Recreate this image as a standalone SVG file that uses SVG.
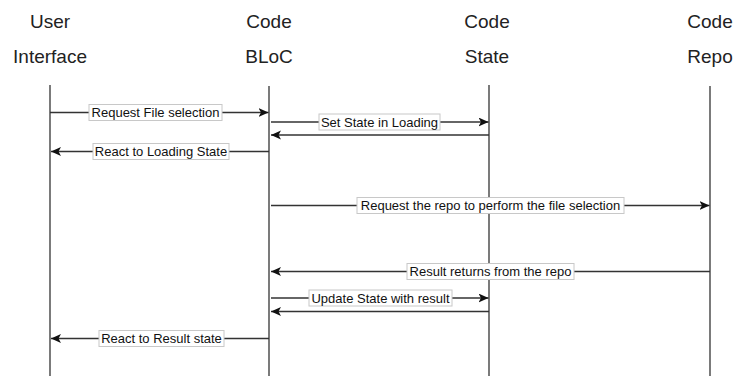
<svg xmlns="http://www.w3.org/2000/svg" width="736" height="376" viewBox="0 0 736 376">
<style>
.hd{font-family:"Liberation Sans",Arial,sans-serif;font-size:19px;fill:#222;text-anchor:middle}
.life{stroke:#333;stroke-width:1.3;fill:none}
.msg{stroke:#333;stroke-width:1.3;fill:none}
.lb rect{fill:#fff;stroke:#c8c8c8;stroke-width:1}
.lb text{font-family:"Liberation Sans",Arial,sans-serif;font-size:13px;fill:#111;text-anchor:middle;dominant-baseline:central}
</style>
<defs>
<marker id="ah" markerUnits="userSpaceOnUse" markerWidth="12" markerHeight="10" refX="10" refY="4.5" orient="auto">
<path d="M0,0 L10,4.5 L0,9 L2.5,4.5 Z" fill="#111"/>
</marker>
</defs>
<rect width="736" height="376" fill="#fff"/>
<g id="ui">
<text class="hd" x="50" y="28">User</text>
<text class="hd" x="50" y="63">Interface</text>
<line class="life" x1="50" y1="85" x2="50" y2="376"/>
</g>
<g id="bloc">
<text class="hd" x="269" y="28">Code</text>
<text class="hd" x="269" y="63">BLoC</text>
<line class="life" x1="269" y1="86" x2="269" y2="376"/>
</g>
<g id="state">
<text class="hd" x="487" y="28">Code</text>
<text class="hd" x="487" y="63">State</text>
<line class="life" x1="489" y1="85" x2="489" y2="376"/>
</g>
<g id="repo">
<text class="hd" x="710" y="28">Code</text>
<text class="hd" x="710" y="63">Repo</text>
<line class="life" x1="710" y1="86" x2="710" y2="376"/>
</g>
<g id="connectors">
<line class="msg" x1="50" y1="112.5" x2="268.5" y2="112.5" marker-end="url(#ah)"/>
<line class="msg" x1="271" y1="122" x2="488.5" y2="122" marker-end="url(#ah)"/>
<line class="msg" x1="489" y1="135" x2="271" y2="135" marker-end="url(#ah)"/>
<line class="msg" x1="269" y1="151.5" x2="51" y2="151.5" marker-end="url(#ah)"/>
<line class="msg" x1="271" y1="205.5" x2="709.5" y2="205.5" marker-end="url(#ah)"/>
<line class="msg" x1="710" y1="271.5" x2="271" y2="271.5" marker-end="url(#ah)"/>
<line class="msg" x1="271" y1="298" x2="488.5" y2="298" marker-end="url(#ah)"/>
<line class="msg" x1="489" y1="311.5" x2="271" y2="311.5" marker-end="url(#ah)"/>
<line class="msg" x1="269" y1="338.5" x2="51" y2="338.5" marker-end="url(#ah)"/>
<g class="lb"><rect x="89" y="104.5" width="133" height="16"/><text x="155.5" y="112.5">Request File selection</text></g>
<g class="lb"><rect x="319" y="114" width="121" height="16"/><text x="379.5" y="122">Set State in Loading</text></g>
<g class="lb"><rect x="93" y="143.5" width="136" height="16"/><text x="161" y="151.5">React to Loading State</text></g>
<g class="lb"><rect x="357" y="197.5" width="267" height="16"/><text x="490.5" y="205.5">Request the repo to perform the file selection</text></g>
<g class="lb"><rect x="407" y="263.5" width="167" height="16"/><text x="490.5" y="271.5">Result returns from the repo</text></g>
<g class="lb"><rect x="309" y="290" width="143" height="16"/><text x="380.5" y="298">Update State with result</text></g>
<g class="lb"><rect x="99" y="330.5" width="125" height="16"/><text x="161.5" y="338.5">React to Result state</text></g>
</g>
</svg>
